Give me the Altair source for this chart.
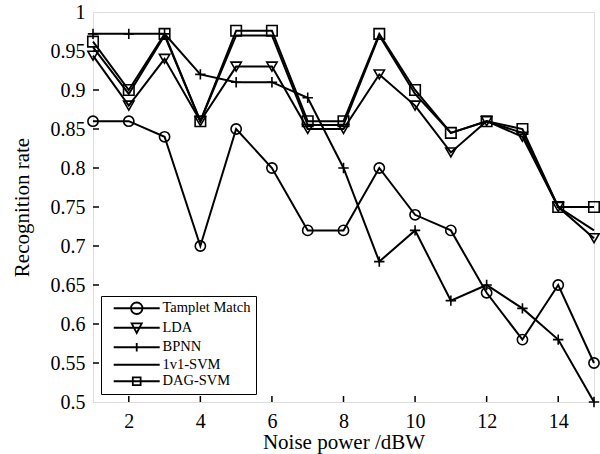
import altair as alt
import pandas as pd

# ---- data ----
NOISE = list(range(1, 16))
SERIES = ["Tamplet Match", "LDA", "BPNN", "1v1-SVM", "DAG-SVM"]
TAMPLET = [0.86, 0.86, 0.84, 0.70, 0.85, 0.80, 0.72, 0.72, 0.80, 0.74, 0.72, 0.64, 0.58, 0.65, 0.55]
LDA = [0.944, 0.88, 0.94, 0.86, 0.93, 0.93, 0.85, 0.85, 0.92, 0.88, 0.82, 0.86, 0.84, 0.75, 0.71]
BPNN = [0.972, 0.972, 0.972, 0.92, 0.91, 0.91, 0.89, 0.80, 0.68, 0.72, 0.63, 0.65, 0.62, 0.58, 0.50]
SVM1V1 = [0.955, 0.895, 0.97, 0.86, 0.97, 0.97, 0.855, 0.855, 0.97, 0.895, 0.845, 0.86, 0.845, 0.75, 0.72]
DAGSVM = [0.962, 0.90, 0.972, 0.86, 0.976, 0.976, 0.86, 0.86, 0.972, 0.90, 0.845, 0.86, 0.85, 0.75, 0.75]
XTICKS = [2, 4, 6, 8, 10, 12, 14]
YLABELS = [0.5, 0.55, 0.6, 0.65, 0.7, 0.75, 0.8, 0.85, 0.9, 0.95, 1.0]
YTICKS = [0.55, 0.6, 0.65, 0.7, 0.75, 0.8, 0.85, 0.9, 0.95]

rows = []
for name, vals in zip(SERIES, [TAMPLET, LDA, BPNN, SVM1V1, DAGSVM]):
    for x, v in zip(NOISE, vals):
        rows.append({"x": x, "y": v, "series": name})
df = pd.DataFrame(rows)

FONT = "Liberation Serif"
xs = alt.Scale(domain=[1, 15], nice=False, zero=False)
ys = alt.Scale(domain=[0.5, 1], nice=False, zero=False)

X = alt.X("x:Q", scale=xs,
          axis=alt.Axis(values=XTICKS, title="Noise power /dBW", grid=False, ticks=False,
                        tickSize=0, domain=False, labelFont=FONT, labelFontSize=20,
                        labelColor="black", labelPadding=9, labelOverlap=False,
                        titleFont=FONT, titleFontSize=21, titleFontWeight="normal",
                        titleColor="black", titlePadding=0))
Y = alt.Y("y:Q", scale=ys,
          axis=alt.Axis(values=YLABELS, format="~g", title="Recognition rate",
                        grid=False, ticks=False, tickSize=0, domain=False, labelFont=FONT,
                        labelFontSize=20, labelColor="black", labelPadding=8,
                        labelOverlap=False, labelFlush=False,
                        titleFont=FONT, titleFontSize=21, titleFontWeight="normal",
                        titleColor="black", titlePadding=18))

base = alt.Chart(df)

lines = base.mark_line(color="black", strokeWidth=2).encode(
    x=X, y=Y, detail="series:N",
    order=alt.Order("x:Q"))

MARK_SERIES = ["Tamplet Match", "LDA", "BPNN", "DAG-SVM"]
points = base.transform_filter(
    alt.FieldOneOfPredicate(field="series", oneOf=MARK_SERIES)
).mark_point(filled=False, color="black", strokeWidth=1.6, opacity=1).encode(
    x=X, y=Y,
    shape=alt.Shape("series:N", legend=None,
                    scale=alt.Scale(domain=MARK_SERIES,
                                    range=["circle", "triangle-down", "M-1,0H1M0,-1V1", "square"])),
    size=alt.Size("series:N", legend=None,
                  scale=alt.Scale(domain=MARK_SERIES, range=[105, 110, 64, 80])),
)

LEG_SHAPES = [
    "M0.2,0H20.2M7.7,0A2.5,2.5,0,1,0,12.7,0A2.5,2.5,0,1,0,7.7,0",
    "M0.2,0H20.2M8,-1.9H12.4L10.2,2.3Z",
    "M0.2,0H20.2M10.2,-1.8V1.8",
    "M0.2,0H20.2",
    "M0.2,0H20.2M8.5,-1.7H11.9V1.7H8.5Z",
]
legend_layer = base.mark_point(filled=False, color="black", opacity=0, size=21.16).encode(
    x=X, y=Y,
    shape=alt.Shape("series:N",
                    scale=alt.Scale(domain=SERIES, range=LEG_SHAPES),
                    legend=alt.Legend(title=None, orient="bottom-left", offset=8, padding=5,
                                      strokeColor="black", fillColor="white",
                                      labelFont=FONT, labelFontSize=14.5, labelColor="black",
                                      labelOffset=42, rowPadding=1.5, symbolSize=21.16,
                                      symbolStrokeWidth=1.8, symbolStrokeColor="black",
                                      symbolOpacity=1, symbolFillColor="transparent")),
)

xtick_df = pd.DataFrame({"x": XTICKS})
ytick_df = pd.DataFrame({"y": YTICKS})
xticks = alt.Chart(xtick_df).mark_rule(color="black", strokeWidth=1.5).encode(
    x=X, y=alt.value(390), y2=alt.value(384))
yticks = alt.Chart(ytick_df).mark_rule(color="black", strokeWidth=1.5).encode(
    y=Y, x=alt.value(0), x2=alt.value(6))

chart = alt.layer(lines, points, legend_layer, xticks, yticks).resolve_scale(
    shape="independent", size="independent"
).properties(
    width=501, height=390,
    autosize=alt.AutoSizeParams(type="none"),
    padding={"left": 93, "top": 12, "right": 6, "bottom": 52},
).configure_view(stroke="black", strokeWidth=1.8).configure(background="white")

chart.save("out.html", embed_options={"renderer": "svg", "actions": False})
